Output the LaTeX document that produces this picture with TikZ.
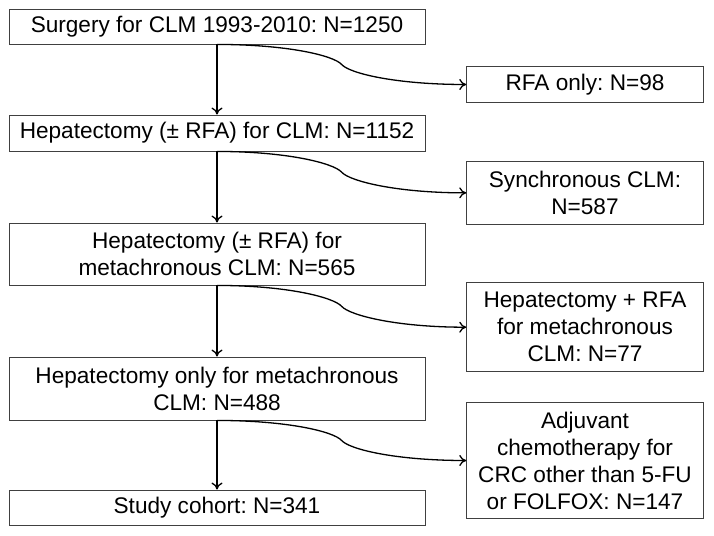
\documentclass[tikz,border=0pt]{standalone}
\usepackage{fontspec}
\setmainfont{Liberation Sans}
\usetikzlibrary{arrows.meta,calc}
\frenchspacing
\newcommand\mycurve[2]{\draw[arr] (#1.south) .. controls +(70,0) and +(-8,-9) .. ($(#1.south)!0.5!(#2.west)$) .. controls +(8,9) and +(-70,0) .. (#2.west);}
\begin{document}
\begin{tikzpicture}[x=1pt,y=-1pt,
  box/.style={draw=black!75,line width=0.9pt,fill=white,inner sep=0pt,align=center,
    font=\fontsize{22.6}{27}\selectfont\frenchspacing},
  lbox/.style={box,minimum width=416pt},
  rbox/.style={box,minimum width=236.6pt},
  arr/.style={draw=black,line width=1.3pt,-{To[length=7pt,width=11pt]}}]
\useasboundingbox (0,0) rectangle (714,535);
\node[lbox,minimum height=35pt] (b1) at (217,26.5) {Surgery for CLM 1993-2010: N=1250};
\node[lbox,minimum height=36pt] (b2) at (217,133) {Hepatectomy (± RFA) for CLM: N=1152};
\node[lbox,minimum height=62pt] (b3) at (217,254) {Hepatectomy (± RFA) for\\metachronous CLM: N=565};
\node[lbox,minimum height=63pt] (b4) at (217,388.5) {Hepatectomy only for metachronous\\CLM: N=488};
\node[lbox,minimum height=35pt] (b5) at (217,507.5) {Study cohort: N=341};
\node[rbox,minimum height=35.6pt] (r1) at (585,84.5) {RFA only: N=98};
\node[rbox,minimum height=62.3pt] (r2) at (585,192.85) {Synchronous CLM:\\N=587};
\node[rbox,minimum height=89pt] (r3) at (585,327.2) {Hepatectomy + RFA\\for metachronous\\CLM: N=77};
\node[rbox,minimum height=115.6pt] (r4) at (585,460.5) {Adjuvant\\chemotherapy for\\CRC other than 5-FU\\or FOLFOX: N=147};
\draw[arr] (b1) -- (b2);
\draw[arr] (b2) -- (b3);
\draw[arr] (b3) -- (b4);
\draw[arr] (b4) -- (b5);
\mycurve{b1}{r1}
\mycurve{b2}{r2}
\mycurve{b3}{r3}
\mycurve{b4}{r4}
\end{tikzpicture}
\end{document}
